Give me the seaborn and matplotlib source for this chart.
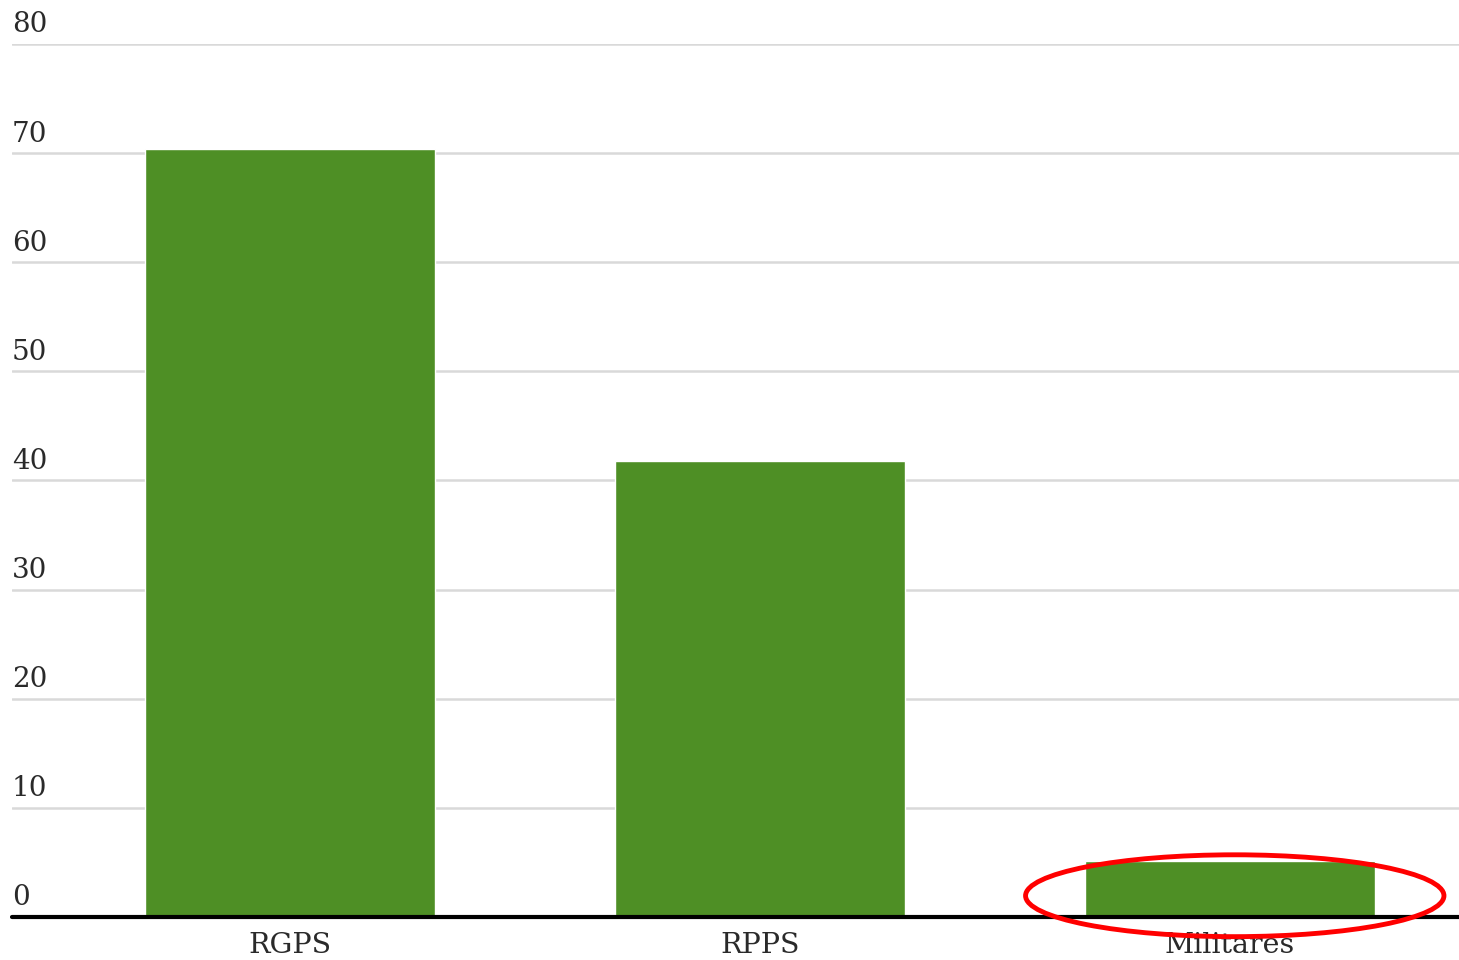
import matplotlib
matplotlib.use("Agg")
import matplotlib.pyplot as plt
import numpy as np
import pandas as pd
import seaborn as sns
from matplotlib.patches import Ellipse

categories = ["RGPS", "RPPS", "Militares"]
values = [70.4, 41.8, 5.1]
y_ticks = [0, 10, 20, 30, 40, 50, 60, 70, 80]

df = pd.DataFrame({"regime": categories, "valor": values})

sns.set_style("white")
plt.rcParams["font.family"] = ["DejaVu Serif"]

fig = plt.figure(figsize=(14.59, 9.6), dpi=100)
ax = fig.add_axes([12/1459, 43/960, 1 - 12/1459, (917-44)/960])

sns.barplot(data=df, x="regime", y="valor", color="#4e8f25", saturation=1,
            width=0.617, ax=ax, zorder=2)

ax.set_ylim(0, 80)
ax.set_xlim(-0.591, 2.487)
ax.set_yticks(y_ticks)
ax.set_yticklabels([])
ax.tick_params(axis="y", length=0)
ax.tick_params(axis="x", length=0, pad=11, labelsize=20.5, labelcolor="#2a2a2a")
ax.set_xlabel("")
ax.set_ylabel("")
for s in ax.spines.values():
    s.set_visible(False)

# gridlines and tick labels above them
for t in y_ticks[1:]:
    ax.axhline(t, color="#d9d9d9", lw=1.8, zorder=1)
ax.axhline(0, color="black", lw=3, zorder=3, clip_on=False)
for t in y_ticks:
    ax.annotate(str(t), xy=(0, t), xycoords=ax.get_yaxis_transform(),
                xytext=(0, 4), textcoords="offset points",
                ha="left", va="bottom", fontsize=20, color="#2a2a2a",
                annotation_clip=False)

# red highlight around the Militares bar
mil = categories.index("Militares")
ell = Ellipse((mil + 0.01, values[mil] / 2 - 0.6), width=0.89, height=7.5,
              fill=False, edgecolor="red", lw=3.5, zorder=4, clip_on=False)
ax.add_patch(ell)

fig.savefig("out.png", dpi=100)
